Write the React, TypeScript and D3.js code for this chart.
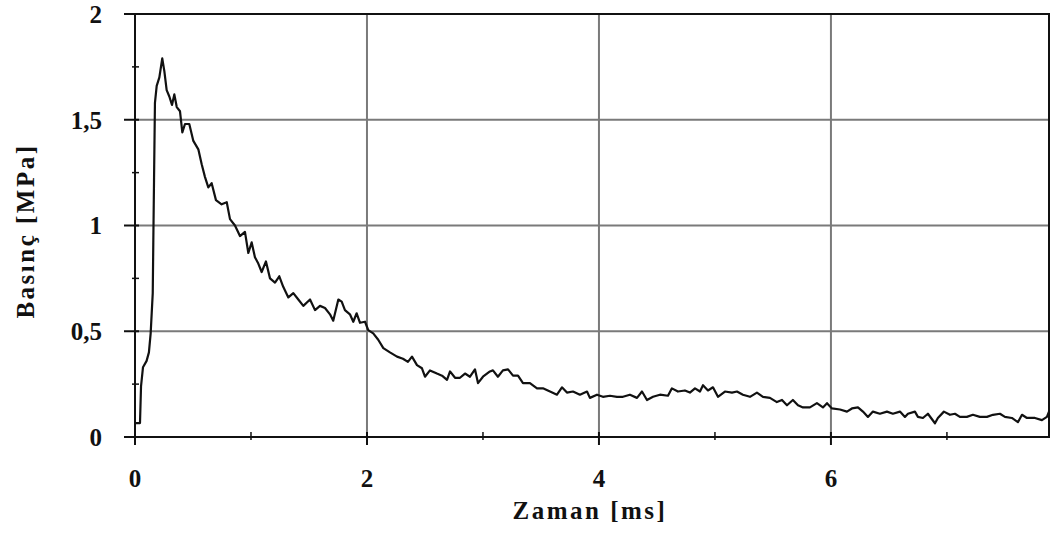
import React from "react";
import * as d3 from "d3";

// Time [ms]
const timeMs: number[] = [
  0.0, 0.043, 0.052, 0.069, 0.1, 0.12, 0.135, 0.153, 0.158, 0.164, 0.172, 0.187, 0.21, 0.235, 0.253,
  0.273, 0.296, 0.319, 0.339, 0.36, 0.388, 0.408, 0.431, 0.468, 0.503, 0.546, 0.575, 0.603, 0.632,
  0.661, 0.698, 0.747, 0.791, 0.819, 0.862, 0.905, 0.948, 0.977, 1.006, 1.034, 1.063, 1.092, 1.129,
  1.164, 1.207, 1.244, 1.278, 1.322, 1.365, 1.408, 1.451, 1.509, 1.552, 1.595, 1.638, 1.681, 1.709,
  1.753, 1.782, 1.81, 1.853, 1.882, 1.911, 1.94, 1.983, 2.011, 2.054, 2.097, 2.141, 2.198, 2.259,
  2.31, 2.353, 2.388, 2.431, 2.474, 2.5, 2.543, 2.603, 2.647, 2.69, 2.716, 2.759, 2.802, 2.845, 2.888,
  2.931, 2.957, 3.0, 3.06, 3.086, 3.129, 3.172, 3.216, 3.259, 3.302, 3.345, 3.405, 3.466, 3.517,
  3.578, 3.638, 3.681, 3.724, 3.776, 3.836, 3.897, 3.922, 3.983, 4.034, 4.095, 4.155, 4.207, 4.267,
  4.328, 4.371, 4.414, 4.466, 4.526, 4.595, 4.629, 4.681, 4.741, 4.784, 4.828, 4.871, 4.897, 4.94,
  4.983, 5.026, 5.086, 5.147, 5.19, 5.241, 5.302, 5.362, 5.414, 5.474, 5.534, 5.578, 5.621, 5.672,
  5.716, 5.759, 5.819, 5.879, 5.931, 5.966, 6.009, 6.078, 6.138, 6.181, 6.233, 6.276, 6.319, 6.362,
  6.422, 6.483, 6.534, 6.595, 6.638, 6.664, 6.724, 6.75, 6.793, 6.836, 6.897, 6.922, 6.974, 7.026,
  7.069, 7.112, 7.172, 7.224, 7.284, 7.345, 7.397, 7.457, 7.5, 7.56, 7.612, 7.647, 7.69, 7.759,
  7.819, 7.862, 7.88,
];

// Pressure [MPa]
const pressure: number[] = [
  0.066, 0.066, 0.24, 0.33, 0.36, 0.4, 0.49, 0.68, 0.93, 1.21, 1.58, 1.66, 1.7, 1.79, 1.73,
  1.64, 1.61, 1.57, 1.62, 1.56, 1.54, 1.44, 1.48, 1.48, 1.4, 1.36, 1.29, 1.23, 1.18,
  1.2, 1.12, 1.1, 1.11, 1.03, 1.0, 0.95, 0.97, 0.87, 0.92, 0.85, 0.82, 0.78, 0.83,
  0.75, 0.73, 0.76, 0.71, 0.66, 0.68, 0.65, 0.62, 0.65, 0.6, 0.62, 0.61, 0.58, 0.55,
  0.65, 0.64, 0.6, 0.58, 0.545, 0.585, 0.54, 0.545, 0.505, 0.49, 0.46, 0.42, 0.4, 0.38,
  0.37, 0.355, 0.38, 0.34, 0.325, 0.285, 0.315, 0.3, 0.29, 0.27, 0.31, 0.28, 0.28, 0.3, 0.285,
  0.32, 0.255, 0.285, 0.31, 0.315, 0.285, 0.315, 0.32, 0.29, 0.29, 0.255, 0.255, 0.23, 0.23,
  0.215, 0.2, 0.235, 0.21, 0.215, 0.2, 0.215, 0.185, 0.2, 0.19, 0.195, 0.19, 0.19, 0.2,
  0.185, 0.215, 0.175, 0.19, 0.2, 0.195, 0.23, 0.215, 0.22, 0.21, 0.23, 0.215, 0.245, 0.22,
  0.235, 0.19, 0.215, 0.21, 0.215, 0.2, 0.19, 0.21, 0.19, 0.185, 0.165, 0.175, 0.15, 0.175,
  0.15, 0.14, 0.14, 0.16, 0.14, 0.16, 0.135, 0.13, 0.12, 0.135, 0.14, 0.12, 0.095, 0.12,
  0.11, 0.12, 0.11, 0.12, 0.095, 0.11, 0.12, 0.095, 0.09, 0.11, 0.065, 0.09, 0.12, 0.105,
  0.11, 0.095, 0.095, 0.105, 0.095, 0.095, 0.105, 0.11, 0.095, 0.09, 0.07, 0.105, 0.09, 0.09,
  0.08, 0.095, 0.12,
];

const xMajorTicks: number[] = [0, 2, 4, 6];
const xMinorTicks: number[] = [1, 3, 5, 7];
const yMajorTicks: number[] = [0, 0.5, 1, 1.5, 2];
const yMinorTicks: number[] = [0.25, 0.75, 1.25, 1.75];
const yTickLabels: string[] = ["0", "0,5", "1", "1,5", "2"];
const xTickLabels: string[] = ["0", "2", "4", "6"];
const xTitle = "Zaman [ms]";
const yTitle = "Basınç [MPa]";

const W = 1054;
const H = 536;
const left = 135;
const right = 1049;
const top = 14;
const bottom = 437;

export default function App() {
  const x = d3.scaleLinear().domain([0, 7.88]).range([left, right]);
  const y = d3.scaleLinear().domain([0, 2]).range([bottom, top]);
  const pts: [number, number][] = timeMs.map((t, i) => [t, pressure[i]]);
  const line = d3
    .line<[number, number]>()
    .x((d) => x(d[0]))
    .y((d) => y(d[1]));

  const font = "'Liberation Serif', 'Times New Roman', serif";
  const grid = "#7a7a7a";

  return (
    <svg
      width={W}
      height={H}
      style={{ position: "absolute", left: 0, top: 0, background: "#fff" }}
    >
      <rect x={0} y={0} width={W} height={H} fill="#fff" />
      {/* gridlines */}
      {yMajorTicks
        .filter((v) => v > 0 && v < 2)
        .map((v) => (
          <line key={"gy" + v} x1={left} x2={right} y1={y(v)} y2={y(v)} stroke={grid} strokeWidth={2} />
        ))}
      {xMajorTicks
        .filter((v) => v > 0)
        .map((v) => (
          <line key={"gx" + v} x1={x(v)} x2={x(v)} y1={top} y2={bottom} stroke={grid} strokeWidth={2} />
        ))}
      {/* frame */}
      <rect x={left} y={top} width={right - left} height={bottom - top} fill="none" stroke="#111" strokeWidth={2} />
      {/* y ticks */}
      {yMajorTicks.map((v) => (
        <line key={"ty" + v} x1={left - 11} x2={left + 4} y1={y(v)} y2={y(v)} stroke="#111" strokeWidth={2} />
      ))}
      {yMinorTicks.map((v) => (
        <line key={"tym" + v} x1={left - 3} x2={left + 4} y1={y(v)} y2={y(v)} stroke="#111" strokeWidth={1.5} />
      ))}
      {/* x ticks */}
      {xMajorTicks.map((v) => (
        <line key={"tx" + v} x1={x(v)} x2={x(v)} y1={bottom - 5} y2={bottom + 8} stroke="#111" strokeWidth={2} />
      ))}
      {xMinorTicks.map((v) => (
        <line key={"txm" + v} x1={x(v)} x2={x(v)} y1={bottom - 5} y2={bottom + 3} stroke="#111" strokeWidth={1.5} />
      ))}
      {/* curve */}
      <path d={line(pts) || ""} fill="none" stroke="#111" strokeWidth={2.2} strokeLinejoin="round" />
      {/* tick labels */}
      {yMajorTicks.map((v, i) => (
        <text
          key={"ly" + v}
          x={102}
          y={y(v)}
          dy="0.35em"
          textAnchor="end"
          fontFamily={font}
          fontWeight="bold"
          fontSize={25}
          fill="#111"
        >
          {yTickLabels[i]}
        </text>
      ))}
      {xMajorTicks.map((v, i) => (
        <text
          key={"lx" + v}
          x={x(v)}
          y={487}
          textAnchor="middle"
          fontFamily={font}
          fontWeight="bold"
          fontSize={25}
          fill="#111"
        >
          {xTickLabels[i]}
        </text>
      ))}
      {/* titles */}
      <text
        x={590}
        y={519}
        textAnchor="middle"
        fontFamily={font}
        fontWeight="bold"
        fontSize={25}
        letterSpacing={2.5}
        fill="#111"
      >
        {xTitle}
      </text>
      <text
        transform="translate(34,231) rotate(-90)"
        textAnchor="middle"
        fontFamily={font}
        fontWeight="bold"
        fontSize={25}
        letterSpacing={2.5}
        fill="#111"
      >
        {yTitle}
      </text>
    </svg>
  );
}
